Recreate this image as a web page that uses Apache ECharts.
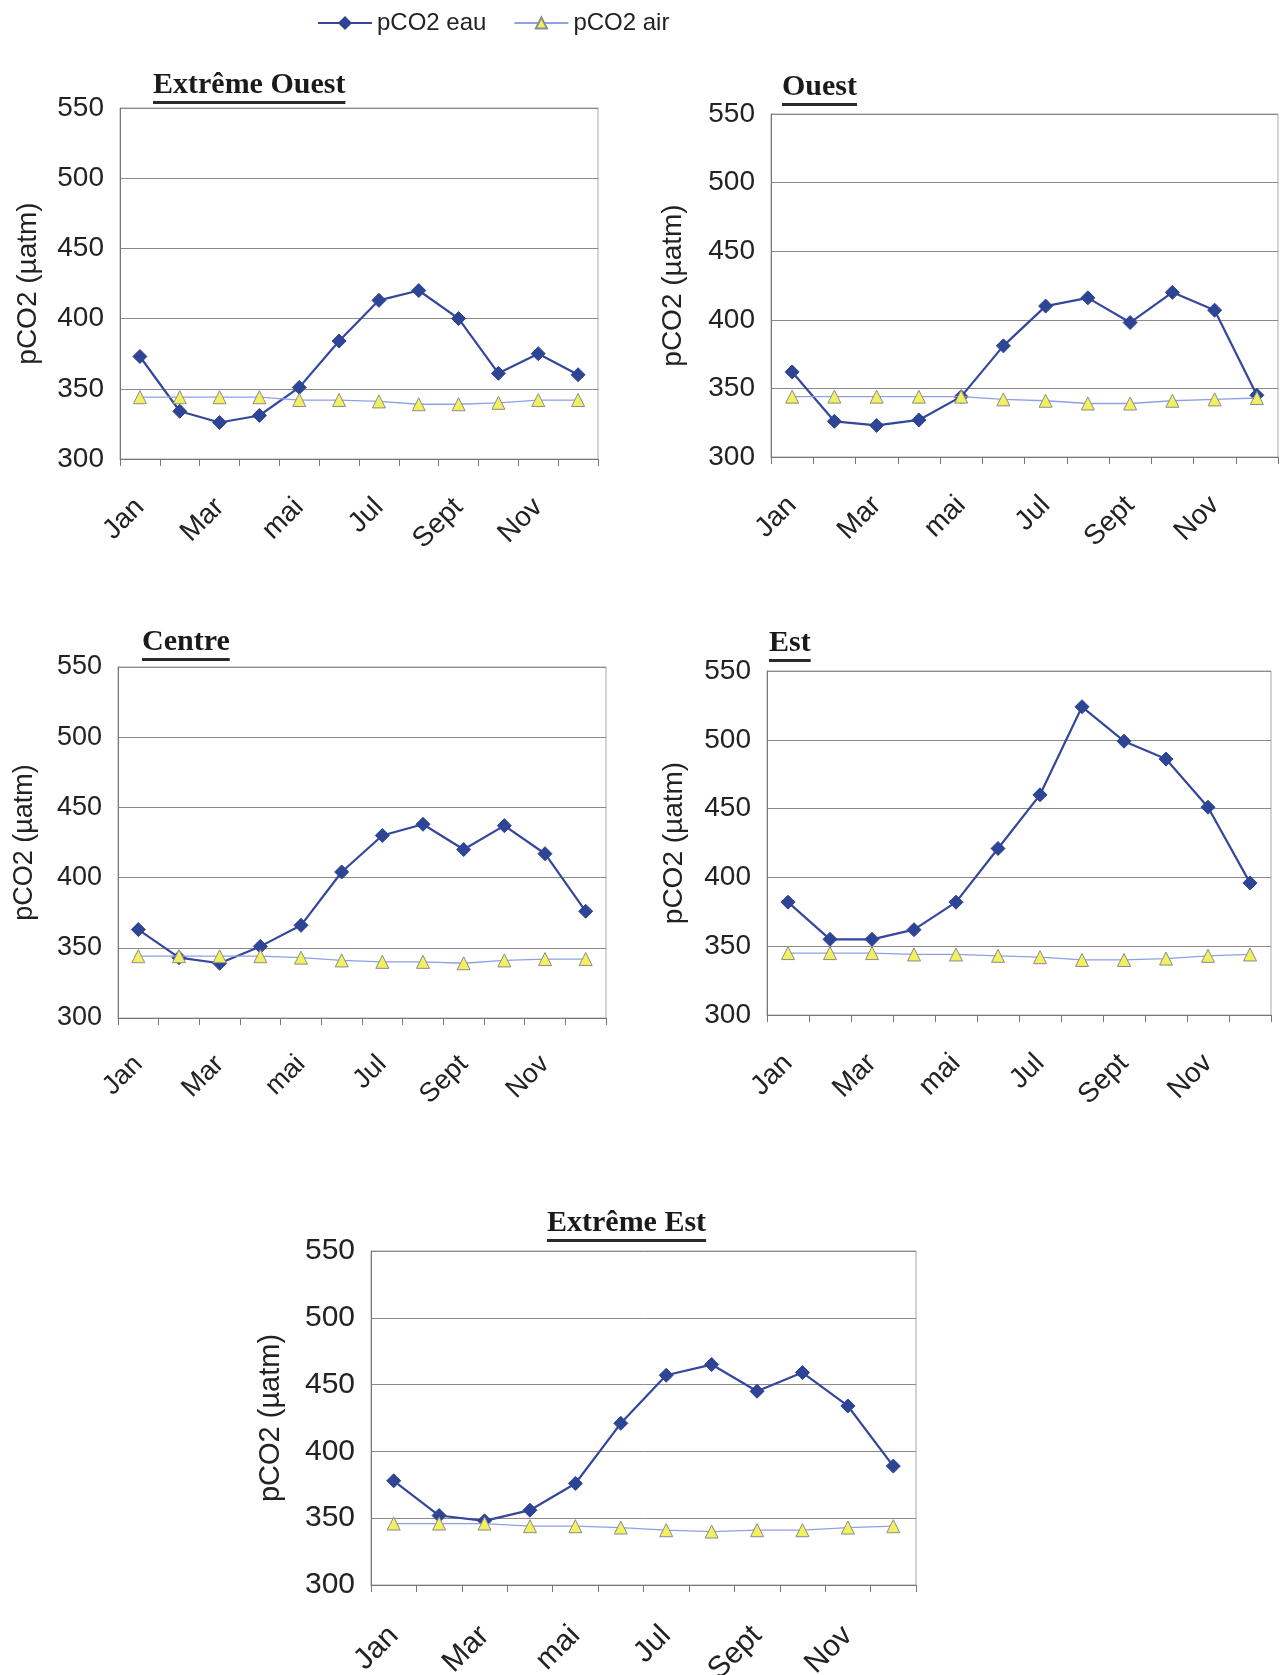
<!DOCTYPE html>
<html><head><meta charset="utf-8">
<script src="https://cdn.jsdelivr.net/npm/echarts@6/dist/echarts.min.js"></script>
<style>html,body{margin:0;padding:0;background:#fff}#c{width:1283px;height:1675px}</style>
</head><body><div id="c"></div>
<script>
// ---- data ----
const months = ['Jan','Fév','Mar','Avr','mai','Juin','Jul','Août','Sept','Oct','Nov','Déc'];
const yMin = 300, yMax = 550, yStep = 50;
const titles = ['Extrême Ouest','Ouest','Centre','Est','Extrême Est'];
const seriesNames = ['pCO2 eau','pCO2 air'];
const yName = 'pCO2 (µatm)';

const eauExtremeOuest = [373,334,326,331,351,384,413,420,400,361,375,360];
const airExtremeOuest = [344,344,344,344,342,342,341,339,339,340,342,342];
const eauOuest        = [362,326,323,327,344,381,410,416,398,420,407,345];
const airOuest        = [344,344,344,344,344,342,341,339,339,341,342,343];
const eauCentre       = [363,343,339,351,366,404,430,438,420,437,417,376];
const airCentre       = [344,344,344,344,343,341,340,340,339,341,342,342];
const eauEst          = [382,355,355,362,382,421,460,524,499,486,451,396];
const airEst          = [345,345,345,344,344,343,342,340,340,341,343,344];
const eauExtremeEst   = [378,352,348,356,376,421,457,465,445,459,434,389];
const airExtremeEst   = [346,346,346,344,344,343,341,340,341,341,343,344];

const eauData = [eauExtremeOuest, eauOuest, eauCentre, eauEst, eauExtremeEst];
const airData = [airExtremeOuest, airOuest, airCentre, airEst, airExtremeEst];

// ---- layout ----
const layouts = [
  {left:120, top:108, width:478, height:351, nameGap:78, fs:28, ns:28, lm:44, tx:153, ty:70},
  {left:771, top:114, width:507, height:343, nameGap:84, fs:28, ns:28, lm:44, tx:782, ty:72},
  {left:118, top:667, width:488, height:351, nameGap:80, fs:27, ns:27, lm:42, tx:142, ty:627},
  {left:767, top:671, width:504, height:344, nameGap:79, fs:28, ns:28, lm:44, tx:769, ty:628},
  {left:371, top:1251, width:545, height:334, nameGap:86, fs:30, ns:29, lm:46, tx:547, ty:1208}
];

const FONT = '"Liberation Sans", Arial, sans-serif';
const TFONT = 'bold 30px "Liberation Serif", "Times New Roman", serif';
const cv = document.createElement('canvas').getContext('2d');
cv.font = TFONT;

const grids = [], xAxes = [], yAxes = [], series = [], graphics = [];
layouts.forEach((L, i) => {
  grids.push({left:L.left, top:L.top, width:L.width, height:L.height, show:true,
    borderColor:'#a8a8a8', borderWidth:1, containLabel:false, outerBoundsMode:'none'});
  xAxes.push({type:'category', gridIndex:i, data:months, boundaryGap:true,
    axisLine:{show:true, lineStyle:{color:'#777', width:1}},
    axisTick:{show:true, interval:0, length:7, lineStyle:{color:'#777'}},
    axisLabel:{interval:1, rotate:45, margin:L.lm, fontSize:L.fs, fontFamily:FONT, color:'#222'},
    splitLine:{show:false}});
  yAxes.push({type:'value', gridIndex:i, min:yMin, max:yMax, interval:yStep,
    name:yName, nameLocation:'middle', nameGap:L.nameGap,
    nameTextStyle:{fontSize:L.ns, fontFamily:FONT, color:'#222'},
    axisLine:{show:true, lineStyle:{color:'#777', width:1}},
    axisTick:{show:false},
    axisLabel:{fontSize:L.fs, fontFamily:FONT, color:'#222', margin:16},
    splitLine:{show:true, lineStyle:{color:'#8a8a8a', width:1}}});
  series.push({name:seriesNames[0], type:'line', xAxisIndex:i, yAxisIndex:i, data:eauData[i],
    symbol:'diamond', symbolSize:14, z:2,
    lineStyle:{color:'#34479b', width:2.2},
    itemStyle:{color:'#2e4494', borderColor:'#2e4494', borderWidth:1}});
  series.push({name:seriesNames[1], type:'line', xAxisIndex:i, yAxisIndex:i, data:airData[i],
    symbol:'triangle', symbolSize:13, z:3,
    lineStyle:{color:'#8fa0e6', width:1.3},
    itemStyle:{color:'#f0f060', borderColor:'#8c8c8c', borderWidth:1}});
  const w = cv.measureText(titles[i]).width;
  graphics.push({type:'text', left:L.tx, top:L.ty,
    style:{text:titles[i], font:TFONT, fill:'#1a1a1a'}});
  graphics.push({type:'rect', left:L.tx, top:L.ty + 31,
    shape:{width:w, height:3}, style:{fill:'#2a2a2a'}});
});

const chart = echarts.init(document.getElementById('c'), null, {renderer:'canvas'});
chart.setOption({
  animation:false,
  backgroundColor:'#ffffff',
  legend:{data:seriesNames, left:312, top:6, itemWidth:54, itemHeight:14, itemGap:27,
    textStyle:{fontSize:24, fontFamily:FONT, color:'#222'}},
  grid:grids, xAxis:xAxes, yAxis:yAxes, series:series, graphic:graphics
});
</script></body></html>
